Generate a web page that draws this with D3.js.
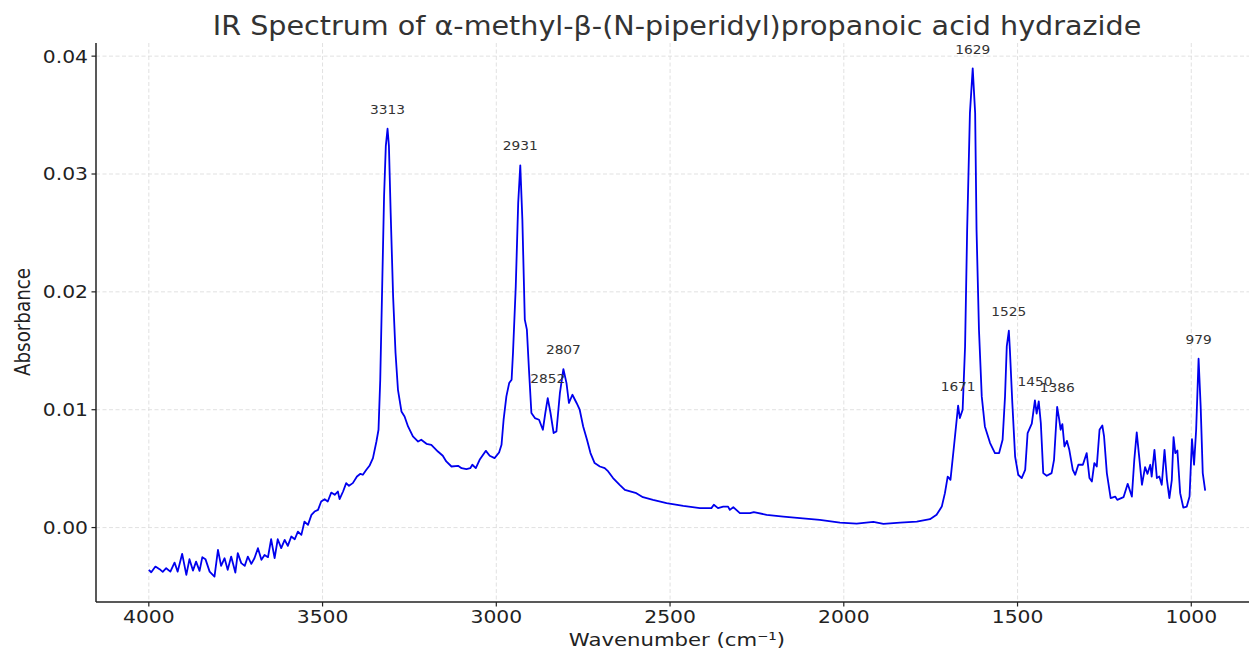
<!DOCTYPE html>
<html>
<head>
<meta charset="utf-8">
<script src="https://cdn.jsdelivr.net/npm/d3@7"></script>
<style>
  body { margin: 0; background: #fff; }
  svg { display: block; }
  text { font-family: "DejaVu Sans", sans-serif; }
</style>
</head>
<body>
<svg id="chart" width="1249" height="651"></svg>
<script>
// Spectrum samples: wavenumber (cm-1) and absorbance, high to low wavenumber
const wavenumbers = [
  4000, 3993, 3981, 3969, 3960, 3950, 3938, 3926, 3917, 3904, 3892, 3883, 3873, 3864, 3854, 3846,
  3837, 3825, 3811, 3801, 3792, 3782, 3773, 3763, 3751, 3744, 3734, 3724, 3715, 3705, 3696, 3686,
  3676, 3667, 3657, 3648, 3638, 3629, 3619, 3609, 3600, 3590, 3580, 3571, 3561, 3552, 3542, 3532,
  3523, 3513, 3504, 3494, 3485, 3475, 3465, 3456, 3451, 3441, 3432, 3424, 3413, 3401, 3391, 3384,
  3374, 3365, 3355, 3345, 3339, 3334, 3328, 3323, 3318, 3313, 3309, 3304, 3297, 3290, 3283, 3273,
  3264, 3254, 3240, 3225, 3216, 3201, 3187, 3168, 3154, 3144, 3129, 3110, 3100, 3086, 3075, 3069,
  3059, 3048, 3030, 3019, 3005, 2992, 2985, 2979, 2971, 2963, 2956, 2952, 2944, 2937, 2931, 2925,
  2918, 2912, 2906, 2899, 2889, 2877, 2866, 2859, 2852, 2844, 2835, 2827, 2817, 2807, 2798, 2791,
  2781, 2769, 2760, 2750, 2739, 2729, 2717, 2702, 2688, 2678, 2664, 2645, 2630, 2597, 2578, 2549,
  2510, 2462, 2414, 2381, 2374, 2362, 2347, 2333, 2328, 2318, 2299, 2270, 2259, 2222, 2174, 2126,
  2069, 2011, 1963, 1915, 1886, 1838, 1790, 1752, 1733, 1718, 1709, 1701, 1693, 1683, 1671, 1666,
  1658, 1651, 1645, 1637, 1629, 1622, 1618, 1611, 1603, 1594, 1579, 1565, 1553, 1543, 1536, 1531,
  1525, 1522, 1515, 1507, 1498, 1488, 1478, 1471, 1459, 1450, 1445, 1439, 1433, 1426, 1416, 1402,
  1395, 1386, 1380, 1376, 1371, 1365, 1358, 1351, 1341, 1334, 1325, 1312, 1301, 1293, 1286, 1279,
  1272, 1264, 1256, 1251, 1243, 1232, 1219, 1213, 1195, 1183, 1171, 1164, 1157, 1151, 1142, 1133,
  1126, 1118, 1114, 1106, 1099, 1092, 1085, 1077, 1070, 1063, 1056, 1051, 1046, 1040, 1032, 1023,
  1013, 1005, 998, 992, 986, 979, 973, 967, 960
];

const absorbance = [
  -0.00359, -0.00379, -0.00331, -0.00353, -0.00376, -0.00345, -0.00374, -0.00297, -0.00374, -0.00223, -0.00402, -0.00268, -0.00365, -0.00289, -0.00368, -0.00251,
  -0.00268, -0.00374, -0.00416, -0.00189, -0.00325, -0.00260, -0.00359, -0.00246, -0.00382, -0.00217, -0.00302, -0.00325, -0.00246, -0.00308, -0.00260, -0.00175,
  -0.00274, -0.00232, -0.00251, -0.00099, -0.00260, -0.00099, -0.00175, -0.00104, -0.00155, -0.00076, -0.00099, -0.00034, -0.00062, 0.00051, 0.00023, 0.00108,
  0.00136, 0.00150, 0.00221, 0.00241, 0.00221, 0.00297, 0.00278, 0.00306, 0.00241, 0.00306, 0.00377, 0.00354, 0.00377, 0.00433, 0.00456, 0.00448,
  0.00490, 0.00524, 0.00589, 0.00730, 0.00830, 0.01254, 0.02104, 0.02811, 0.03236, 0.03384, 0.03236, 0.02670, 0.01962, 0.01481, 0.01169, 0.00985,
  0.00943, 0.00858, 0.00773, 0.00730, 0.00745, 0.00711, 0.00702, 0.00645, 0.00609, 0.00561, 0.00518, 0.00524, 0.00504, 0.00496, 0.00504, 0.00533,
  0.00504, 0.00575, 0.00651, 0.00609, 0.00589, 0.00637, 0.00702, 0.00915, 0.01113, 0.01226, 0.01254, 0.01481, 0.02047, 0.02755, 0.03074, 0.02613,
  0.01764, 0.01679, 0.01339, 0.00972, 0.00929, 0.00915, 0.00830, 0.00972, 0.01099, 0.00972, 0.00802, 0.00815, 0.01141, 0.01345, 0.01226, 0.01057,
  0.01127, 0.01057, 0.01000, 0.00858, 0.00745, 0.00632, 0.00547, 0.00518, 0.00504, 0.00476, 0.00420, 0.00363, 0.00320, 0.00292, 0.00258, 0.00235,
  0.00207, 0.00184, 0.00165, 0.00165, 0.00193, 0.00165, 0.00178, 0.00178, 0.00150, 0.00173, 0.00122, 0.00122, 0.00131, 0.00108, 0.00093, 0.00080,
  0.00065, 0.00042, 0.00033, 0.00048, 0.00031, 0.00042, 0.00051, 0.00071, 0.00108, 0.00178, 0.00292, 0.00433, 0.00405, 0.00688, 0.01034, 0.00929,
  0.01000, 0.01537, 0.02528, 0.03519, 0.03896, 0.03519, 0.02528, 0.01679, 0.01113, 0.00858, 0.00717, 0.00632, 0.00632, 0.00745, 0.01113, 0.01537,
  0.01670, 0.01509, 0.01057, 0.00603, 0.00448, 0.00420, 0.00490, 0.00802, 0.00881, 0.01079, 0.00966, 0.01070, 0.00887, 0.00462, 0.00439, 0.00462,
  0.00575, 0.01023, 0.00915, 0.00830, 0.00878, 0.00688, 0.00736, 0.00660, 0.00490, 0.00448, 0.00533, 0.00533, 0.00632, 0.00420, 0.00391, 0.00547,
  0.00518, 0.00830, 0.00866, 0.00773, 0.00462, 0.00250, 0.00263, 0.00235, 0.00258, 0.00371, 0.00263, 0.00575, 0.00807, 0.00632, 0.00363, 0.00513,
  0.00456, 0.00533, 0.00433, 0.00660, 0.00420, 0.00433, 0.00363, 0.00660, 0.00405, 0.00250, 0.00405, 0.00768, 0.00632, 0.00654, 0.00292, 0.00170,
  0.00178, 0.00263, 0.00751, 0.00533, 0.00830, 0.01433, 0.01028, 0.00462, 0.00314
];

// Annotated band positions (cm-1)
const peakLabels = [3313, 2931, 2852, 2807, 1671, 1629, 1525, 1450, 1386, 979];

const xTicks = [4000, 3500, 3000, 2500, 2000, 1500, 1000];
const yTicks = [0.00, 0.01, 0.02, 0.03, 0.04];

const titleText = "IR Spectrum of α-methyl-β-(N-piperidyl)propanoic acid hydrazide";
const xLabel = "Wavenumber (cm⁻¹)";
const yLabel = "Absorbance";

// ---- layout ----
const svg = d3.select("#chart");
const plot = { left: 96, right: 1258, top: 43, bottom: 602 };

const points = wavenumbers.map((w, i) => ({ w, a: absorbance[i] }));

// 5% padding on both axes, wavenumber axis reversed
const wExt = d3.extent(wavenumbers);
const aExt = d3.extent(absorbance);
const wPad = (wExt[1] - wExt[0]) * 0.05;
const aPad = (aExt[1] - aExt[0]) * 0.05;

const x = d3.scaleLinear()
  .domain([wExt[1] + wPad, wExt[0] - wPad])
  .range([plot.left, plot.right]);
const y = d3.scaleLinear()
  .domain([aExt[0] - aPad, aExt[1] + aPad])
  .range([plot.bottom, plot.top]);

// text drawn slightly wide, as in the exported figure
function label(parent, str, px, py, size, opts = {}) {
  const sx = opts.sx || 1.15;
  const rot = opts.rotate ? ` rotate(${opts.rotate})` : "";
  return parent.append("text")
    .attr("transform", `translate(${px},${py}) scale(${sx},1)${rot}`)
    .attr("text-anchor", opts.anchor || "middle")
    .attr("font-size", size)
    .attr("fill", opts.fill || "#222")
    .text(str);
}

// ---- grid ----
const grid = svg.append("g").attr("class", "grid");
grid.selectAll("line.vx").data(xTicks).join("line")
  .attr("class", "vx")
  .attr("x1", d => x(d)).attr("x2", d => x(d))
  .attr("y1", plot.top).attr("y2", plot.bottom)
  .attr("stroke", "#dedede").attr("stroke-width", 0.9)
  .attr("stroke-dasharray", "4,2.5");
grid.selectAll("line.hy").data(yTicks).join("line")
  .attr("class", "hy")
  .attr("x1", plot.left).attr("x2", plot.right)
  .attr("y1", d => y(d)).attr("y2", d => y(d))
  .attr("stroke", "#dedede").attr("stroke-width", 0.9)
  .attr("stroke-dasharray", "4,2.5");

// ---- spectrum ----
const line = d3.line()
  .x(d => x(d.w))
  .y(d => y(d.a));

svg.append("path")
  .datum(points)
  .attr("d", line)
  .attr("fill", "none")
  .attr("stroke", "#0000ee")
  .attr("stroke-width", 1.8)
  .attr("stroke-linejoin", "round");

// ---- peak annotations ----
const peaks = svg.append("g").attr("class", "peaks");
peakLabels.forEach(w => {
  const a = absorbance[wavenumbers.indexOf(w)];
  label(peaks, String(w), x(w), y(a + 0.001) - 3, 12.5, { fill: "#333", sx: 1.1 });
});

// ---- axes ----
const axes = svg.append("g").attr("class", "axes");
axes.append("line")
  .attr("x1", plot.left).attr("x2", plot.left)
  .attr("y1", plot.top).attr("y2", plot.bottom)
  .attr("stroke", "#222").attr("stroke-width", 1.5);
axes.append("line")
  .attr("x1", plot.left).attr("x2", plot.right)
  .attr("y1", plot.bottom).attr("y2", plot.bottom)
  .attr("stroke", "#222").attr("stroke-width", 1.5);

xTicks.forEach(t => {
  axes.append("line")
    .attr("x1", x(t)).attr("x2", x(t))
    .attr("y1", plot.bottom).attr("y2", plot.bottom + 4.5)
    .attr("stroke", "#222").attr("stroke-width", 1.2);
  label(axes, d3.format("d")(t), x(t), 622.5, 17.5, { sx: 1.16 });
});

yTicks.forEach(t => {
  axes.append("line")
    .attr("x1", plot.left - 4.5).attr("x2", plot.left)
    .attr("y1", y(t)).attr("y2", y(t))
    .attr("stroke", "#222").attr("stroke-width", 1.2);
  label(axes, d3.format(".2f")(t), 88, y(t) + 6.4, 17.5, { anchor: "end", sx: 1.16 });
});

// ---- titles ----
label(svg, titleText, (plot.left + plot.right) / 2, 35, 26, { fill: "#333", sx: 1.1 });
label(svg, xLabel, (plot.left + plot.right) / 2, 646, 18.3, { sx: 1.16 });
label(svg, yLabel, 30, 322, 18.3, { sx: 1.16, rotate: -90 });
</script>
</body>
</html>
